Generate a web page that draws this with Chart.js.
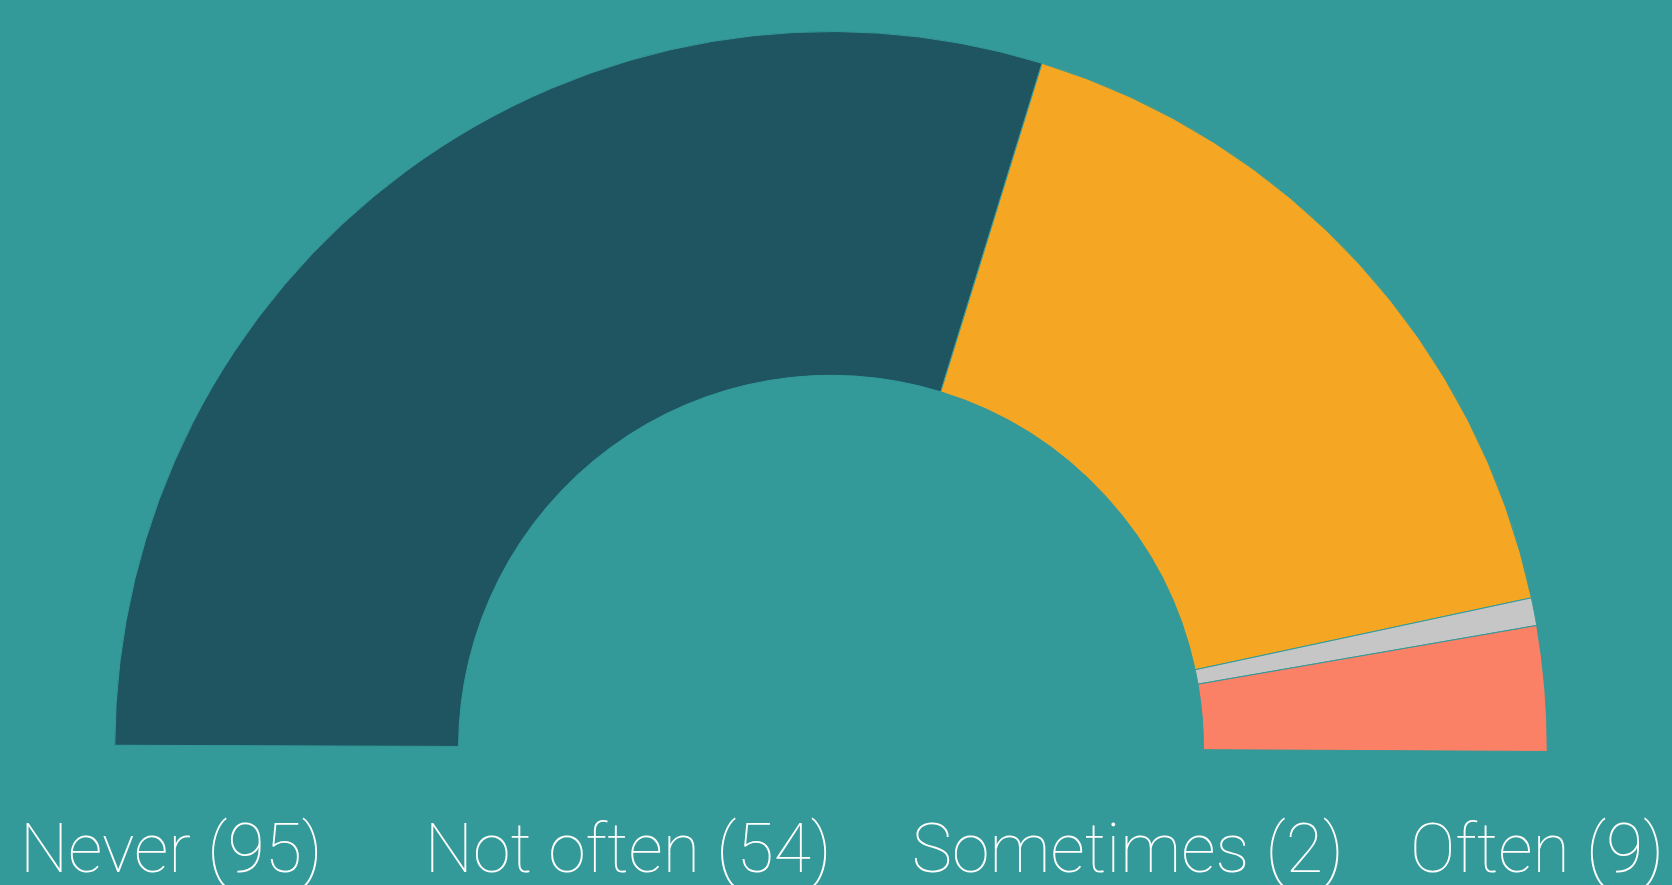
<!DOCTYPE html>
<html>
<head>
<meta charset="utf-8">
<script src="https://cdn.jsdelivr.net/npm/chart.js@4/dist/chart.umd.min.js"></script>
<style>
  html, body { margin: 0; padding: 0; background: #339999; overflow: hidden; }
  #wrap { position: relative; width: 1672px; height: 885px; }
  #legend {
    position: absolute;
    left: 0;
    top: 815px;
    width: 1672px;
    box-sizing: border-box;
    padding: 0 8px 0 20px;
    display: flex;
    justify-content: space-between;
    font-family: "Roboto", sans-serif;
    font-weight: 100;
    font-size: 68px;
    line-height: 1;
    color: #ffffff;
    white-space: nowrap;
  }
  #legend span:nth-child(2) { margin-left: 36px; }
  #legend span:nth-child(3) { margin-left: 14px; }
</style>
</head>
<body>
<div id="wrap">
  <canvas id="gauge"></canvas>
  <div id="legend"></div>
</div>
<script>
// ===== DATA =====
const categories = ["Never", "Not often", "Sometimes", "Often"];
const counts = [95, 54, 2, 9];
const sliceColors = ["#1F5560", "#F5A623", "#C6C6C6", "#FA8066"];

const BG = "#339999";

const ctx = document.getElementById("gauge");

const chart = new Chart(ctx, {
  type: "doughnut",
  data: {
    labels: categories,
    datasets: [
      {
        data: counts,
        backgroundColor: sliceColors,
        borderColor: BG,
        borderWidth: 1,
      },
    ],
  },
  options: {
    responsive: true,
    maintainAspectRatio: false,
    animation: false,
    rotation: -89.8,
    circumference: 180.1,
    cutout: "52%",
    layout: {
      padding: { top: 31, left: 0, right: 10, bottom: 133 },
    },
    plugins: {
      tooltip: { enabled: false },
      legend: { display: false },
    },
  },
});

// Legend under the gauge, built from the chart's own labels
function renderLegend() {
  const legend = document.getElementById("legend");
  legend.innerHTML = "";
  chart.data.labels.forEach((name, i) => {
    const item = document.createElement("span");
    item.textContent = `${name} (${chart.data.datasets[0].data[i]})`;
    legend.appendChild(item);
  });
}

renderLegend();
</script>
</body>
</html>
